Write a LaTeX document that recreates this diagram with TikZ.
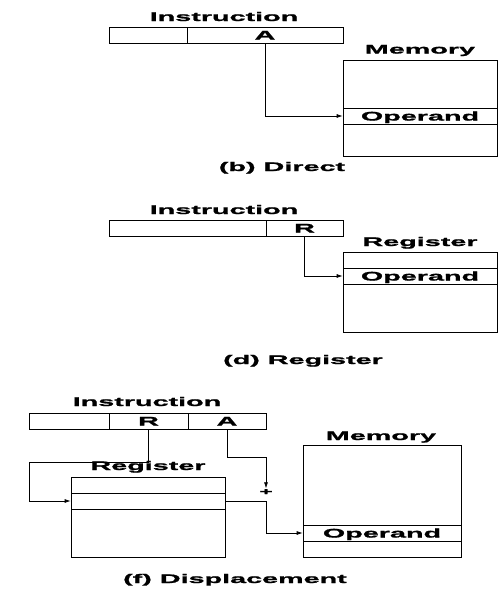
\documentclass[tikz,border=0pt]{standalone}
\usepackage{fontspec}
\setmainfont{Liberation Sans}[FakeStretch=2.3, FakeBold=1.5]
\usetikzlibrary{arrows.meta}
\begin{document}
\begin{tikzpicture}[x=1pt,y=-1pt,
  every node/.style={font=\fontsize{12.5}{14}\selectfont\bfseries},
  cell/.style={draw, line width=0.7pt, inner sep=0pt, text height=9pt, text depth=0pt, anchor=center},
  lbl/.style={inner sep=0pt, anchor=base},
  conn/.style={line width=0.7pt},
  arr/.style={conn, -{Latex[length=6pt,width=4pt]}}]
\useasboundingbox (0,0) rectangle (499,592);

% ---------- (b) Direct ----------
\node[lbl] (ib) at (224,21) {Instruction};
\node[cell, minimum width=78pt, minimum height=16pt] (ib1) at (148,35) {};
\node[cell, minimum width=156pt, minimum height=16pt] (ibA) at (265,35) {A};
\node[lbl] (mbl) at (420,53.5) {Memory};
\node[cell, minimum width=154pt, minimum height=48pt] (mb1) at (420,84) {};
\node[cell, minimum width=154pt, minimum height=16pt] (mbop) at (420,116) {Operand};
\node[cell, minimum width=154pt, minimum height=32pt] (mb2) at (420,140) {};
\draw[arr] (ibA.south) |- (mbop.west);
\node[lbl] (capb) at (282,171) {(b) Direct};

% ---------- (d) Register ----------
\node[lbl] (id) at (224,214) {Instruction};
\node[cell, minimum width=157pt, minimum height=16pt] (id1) at (187.5,228) {};
\node[cell, minimum width=77pt, minimum height=16pt] (idR) at (304.5,228) {R};
\node[lbl] (rdl) at (420,246) {Register};
\node[cell, minimum width=154pt, minimum height=16pt] (rd1) at (420,260) {};
\node[cell, minimum width=154pt, minimum height=16pt] (rdop) at (420,276) {Operand};
\node[cell, minimum width=154pt, minimum height=48pt] (rd2) at (420,308) {};
\draw[arr] (idR.south) |- (rdop.west);
\node[lbl] (capd) at (303,364) {(d) Register};

% ---------- (f) Displacement ----------
\node[lbl] (if) at (147,406) {Instruction};
\node[cell, minimum width=80pt, minimum height=16pt] (if1) at (69,421) {};
\node[cell, minimum width=79pt, minimum height=16pt] (ifR) at (148.5,421) {R};
\node[cell, minimum width=78pt, minimum height=16pt] (ifA) at (227,421) {A};
\node[lbl] (rfl) at (148,470) {Register};
\node[cell, minimum width=154pt, minimum height=16pt] (rf1) at (148,485) {};
\node[cell, minimum width=154pt, minimum height=16pt] (rf2) at (148,501) {};
\node[cell, minimum width=154pt, minimum height=48pt] (rf3) at (148,533) {};
\node[lbl] (mfl) at (381,440) {Memory};
\node[cell, minimum width=158pt, minimum height=80pt] (mf1) at (382,485) {};
\node[cell, minimum width=158pt, minimum height=16pt] (mfop) at (382,533) {Operand};
\node[cell, minimum width=158pt, minimum height=16pt] (mf2) at (382,549) {};
\node[inner sep=0.5pt, font=\fontsize{10}{10}\selectfont\bfseries] (plus) at (266,492) {+};
\coordinate (c1) at (29,462);
\coordinate (c2) at (266,457);
\coordinate (c3) at (266,501);
\draw[arr] (ifR.south) |- (c1) |- (rf2.west);
\draw[arr] (ifA.south) |- (c2) -- (plus.north);
\draw[arr] (rf2.east) -- (c3) |- (mfop.west);
\node[lbl] (capf) at (235,583) {(f) Displacement};
\end{tikzpicture}
\end{document}
